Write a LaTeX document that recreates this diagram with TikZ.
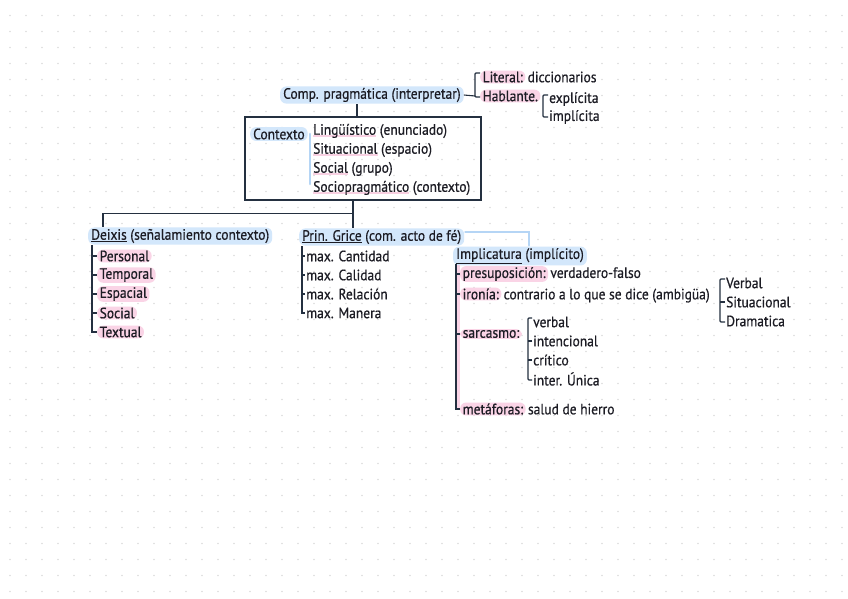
\documentclass[tikz,border=0pt]{standalone}
\usepackage{fontspec}
\setmainfont[FakeStretch=0.9,FakeBold=0.6]{PT Sans}
\definecolor{ink}{HTML}{1C1C24}
\definecolor{lnc}{HTML}{243040}
\definecolor{bluehl}{HTML}{D3E7FB}
\definecolor{bluel}{HTML}{B5D5F5}
\definecolor{pinkhl}{HTML}{FAD4E6}
\definecolor{pinkul}{HTML}{F8D0E2}
\definecolor{dotc}{HTML}{DCDCDC}
\newcommand\pul[1]{\setbox0\hbox{#1}\rlap{\color{pinkul}\rule[-2.4pt]{\wd0}{2.2pt}}\box0\relax}
\begin{document}
\begin{tikzpicture}[x=1pt,y=-1pt,
  txt/.style={anchor=west,inner sep=1pt,text=ink,font=\fontsize{15}{18}\selectfont},
  nxt/.style={anchor=base west,inner sep=1pt,text=ink,font=\fontsize{15}{18}\selectfont,xshift=1pt},
  bhl/.style={fill=bluehl,rounded corners=6pt,inner xsep=3pt,inner ysep=1.5pt},
  phl/.style={fill=pinkhl,rounded corners=6pt,inner xsep=2.5pt,inner ysep=1pt},
  ln/.style={draw=lnc,line width=1.3pt},
  tk/.style={draw=lnc,line width=1.1pt},
  bl/.style={draw=bluel,line width=2.6pt,line cap=round}]
\fill[white] (0,0) rectangle (848,599);
\useasboundingbox (0,0) rectangle (848,599);
\foreach \i in {0,...,52}{\foreach \j in {0,...,36}{\fill[dotc] (10+16*\i,15.5+16*\j) circle (0.8pt);}}

% top
\node[txt,bhl] (comp) at (280,95) {Comp. pragmática (interpretar)};
\node[txt,phl] (lit) at (480,77) {Literal:};
\node[nxt] (litd) at (lit.base east) {diccionarios};
\node[txt,phl] (hab) at (480,96) {Hablante.};
\node[txt] (exp) at (548,99) {explícita};
\node[txt] (imp) at (548,117) {implícita};
\draw[tk,rounded corners=1pt] (lit.west) ++(0,-4) -- ++(-5,0) -- ++(0,24) -- ++(5,0);
\draw[tk] (comp.east) -- ([xshift=-5pt]hab.west);
\draw[tk,rounded corners=1pt] (exp.west) ++(0,-4) -- ++(-5,0) -- ++(0,22) -- ++(5,0);

% box
\node[draw=lnc,line width=1.4pt,minimum width=236pt,minimum height=83pt,inner sep=0pt] (box) at (363,158.5) {};
\draw[ln] ([xshift=-6pt]box.north) -- ([xshift=-6pt]box.north |- comp.south);
\node[txt,bhl] (ctx) at (250,134) {Contexto};
\node[txt] (c1) at (312,131) {\pul{Lingüístico} (enunciado)};
\node[txt] (c2) at (312,150) {\pul{Situacional} (espacio)};
\node[txt] (c3) at (312,169) {\pul{Social} (grupo)};
\node[txt] (c4) at (312,188) {\pul{Sociopragmático} (contexto)};
\draw[bl] ([xshift=-2pt,yshift=-3pt]c1.west) -- ([xshift=-2pt,yshift=4pt]c4.west);

% branches
\node[txt,bhl] (dx) at (88,236) {\underline{Deixis} (señalamiento contexto)};
\node[txt,bhl] (gr) at (299,237) {\underline{Prin. Grice} (com. acto de fé)};
\draw[ln] ([xshift=-10pt]box.south) -- ++(0,13) coordinate (j);
\draw[ln] (j) -| ([xshift=15pt]dx.north west);
\draw[ln] (j) -- (j |- gr.north);

% Deixis items
\node[txt,phl] (d1) at (97,256) {Personal};
\node[txt,phl] (d2) at (97,275) {Temporal};
\node[txt,phl] (d3) at (97,294) {Espacial};
\node[txt,phl] (d4) at (97,313) {Social};
\node[txt,phl] (d5) at (97,332) {Textual};
\draw[tk] (92,245) |- (d5.west);
\foreach \n in {d1,d2,d3,d4}{\draw[tk] (92,0 |- \n.west) -- (\n.west);}

% Grice items
\node[txt] (g1) at (305,256) {max. Cantidad};
\node[txt] (g2) at (305,275) {max. Calidad};
\node[txt] (g3) at (305,294) {max. Relación};
\node[txt] (g4) at (305,313) {max. Manera};
\draw[tk] (302,246) |- (g4.west);
\foreach \n in {g1,g2,g3}{\draw[tk] (302,0 |- \n.west) -- (\n.west);}

% Implicatura
\node[txt,bhl] (imc) at (453,256) {\underline{Implicatura} (implícito)};
\draw[bl] ([xshift=1pt,yshift=5pt]gr.east) -| ([xshift=-58pt,yshift=1pt]imc.north east);
\node[txt,phl] (i1) at (460,274) {presuposición:};
\node[nxt] (i1b) at (i1.base east) {verdadero-falso};
\node[txt,phl] (i2) at (460,294) {ironía:};
\node[nxt] (i2b) at (i2.base east) {contrario a lo que se dice (ambigüa)};
\node[txt,phl] (i3) at (460,334) {sarcasmo:};
\node[txt,phl] (i4) at (460,409) {metáforas:};
\node[nxt] (i4b) at (i4.base east) {salud de hierro};
\draw[draw=pinkhl,line width=2.5pt] (458.5,265) -- (458.5,409);
\draw[ln,line width=1.2pt] (456,264) |- (i4.west);
\foreach \n in {i1,i2,i3}{\draw[tk] (456,0 |- \n.west) -- (\n.west);}

% ironia bracket
\node[txt] (r1) at (725,283) {Verbal};
\node[txt] (r2) at (725,302) {Situacional};
\node[txt] (r3) at (725,321) {Dramatica};
\draw[tk,rounded corners=1pt] (r1.west) ++(0,-4) -- ++(-5,0) |- ([yshift=-1pt]r3.west);
\draw[tk] (r2.west) -- ++(-5,0);

% sarcasmo bracket
\node[txt] (s1) at (532,322) {verbal};
\node[txt] (s2) at (532,341) {intencional};
\node[txt] (s3) at (532,360) {crítico};
\node[txt] (s4) at (532,379) {inter. Única};
\draw[tk,rounded corners=1pt] (s1.west) ++(0,-4) -- ++(-4,0) |- ([yshift=-1pt]s4.west);
\foreach \n in {s2,s3}{\draw[tk] (\n.west) -- ++(-4,0);}
\end{tikzpicture}
\end{document}
